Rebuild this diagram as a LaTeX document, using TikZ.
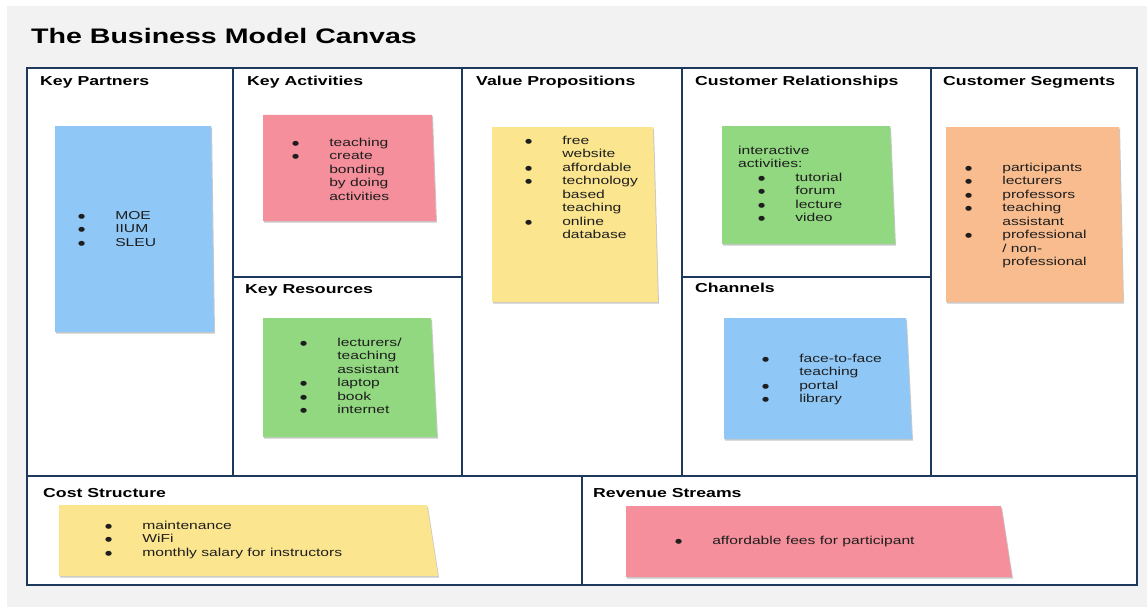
\documentclass[tikz,border=0pt]{standalone}
\usepackage{fontspec}
\setmainfont{Liberation Sans}[FakeStretch=1.36]
\newfontfamily\dotfont{DejaVu Sans}[FakeStretch=1.25]
\usetikzlibrary{shadows}

\definecolor{canvasgray}{RGB}{242,242,242}
\definecolor{framecol}{RGB}{29,58,92}
\definecolor{noteblue}{RGB}{143,200,247}
\definecolor{notepink}{RGB}{245,143,155}
\definecolor{noteyellow}{RGB}{251,229,142}
\definecolor{notegreen}{RGB}{145,216,128}
\definecolor{noteorange}{RGB}{249,188,142}
\definecolor{inkgray}{RGB}{30,30,30}

\newcommand{\blist}[1]{\begin{tabular}[t]{@{}l@{\hspace{30pt}}l@{}}#1\end{tabular}}
\newcommand{\bul}{\raisebox{0.6pt}{\dotfont\fontsize{6.5}{0}\selectfont ●}}

\begin{document}
\begin{tikzpicture}[x=1pt,y=-1pt,
        heading/.style={anchor=base west, inner sep=0pt, font=\fontsize{13}{16}\selectfont\bfseries},
        notetext/.style={anchor=base west, inner sep=0pt, text=inkgray, font=\fontsize{11.5}{13.5}\selectfont},
        sticky/.style={drop shadow={shadow xshift=1pt, shadow yshift=-1.5pt, opacity=.35, fill=black!60}},
        divider/.style={draw=framecol, line width=1.8pt}
    ]
        % Page and gray panel
        \fill[white] (0,0) rectangle (1147,607);
        \fill[canvasgray] (7,6) rectangle (1147,607);
        \node[anchor=base west, inner sep=0pt, font=\fontsize{21}{24}\selectfont\bfseries] (title) at (31,44) {The Business Model Canvas};

        % Canvas frame and blocks
        \fill[white] (27,68) rectangle (1137,585);
        \foreach \x in {233,462,682,931}
            \draw[divider] (\x,68) -- (\x,476);
        \draw[divider] (233,277) -- (462,277);
        \draw[divider] (682,277) -- (931,277);
        \draw[divider] (27,476) -- (1137,476);
        \draw[divider] (582,476) -- (582,585);
        \draw[framecol, line width=2.6pt] (27,68) rectangle (1137,585);

        % Block headings
        \foreach \x/\y/\name/\txt in {
            40/86/kp/Key Partners,
            247/86/ka/Key Activities,
            476/86/vp/Value Propositions,
            695/86/cr/Customer Relationships,
            943/86/cs/Customer Segments,
            245/293/kr/Key Resources,
            695/292/ch/Channels,
            43/497/cost/Cost Structure,
            593/497/rev/Revenue Streams
        } {
            \node[heading] (head-\name) at (\x,\y) {\txt};
        }

        % Sticky notes
        \foreach \c/\xa/\ya/\xb/\xc/\yb in {
            noteblue/55/126/211/214/332,
            notepink/263/115/432/436/221,
            noteyellow/492/127/653/658/302,
            notegreen/722/126/890/895/244,
            noteorange/946/127/1119/1123/302,
            notegreen/263/318/431/437/437,
            noteblue/724/318/906/912/439,
            noteyellow/59/505/427/438/576,
            notepink/626/506/1001/1012/577
        } {
            \fill[\c, sticky] (\xa,\ya) -- (\xb,\ya) -- (\xc,\yb) -- (\xa,\yb) -- cycle;
        }

        % Note contents
        \node[notetext] (kp) at (78,219) {\blist{\bul & MOE\\ \bul & IIUM\\ \bul & SLEU}};
        \node[notetext] (ka) at (292,146) {\blist{\bul & teaching\\ \bul & create\\ & bonding\\ & by doing\\ & activities}};
        \node[notetext] (vp) at (525,144) {\blist{\bul & free\\ & website\\ \bul & affordable\\ \bul & technology\\ & based\\ & teaching\\ \bul & online\\ & database}};
        \node[notetext] (crlead) at (738,154) {\begin{tabular}[t]{@{}l@{}}interactive\\ activities:\end{tabular}};
        \node[notetext] (cr) at (758,181) {\blist{\bul & tutorial\\ \bul & forum\\ \bul & lecture\\ \bul & video}};
        \node[notetext] (cs) at (965,171) {\blist{\bul & participants\\ \bul & lecturers\\ \bul & professors\\ \bul & teaching\\ & assistant\\ \bul & professional\\ & / non-\\ & professional}};
        \node[notetext] (kr) at (300,346) {\blist{\bul & lecturers/\\ & teaching\\ & assistant\\ \bul & laptop\\ \bul & book\\ \bul & internet}};
        \node[notetext] (ch) at (762,362) {\blist{\bul & face-to-face\\ & teaching\\ \bul & portal\\ \bul & library}};
        \node[notetext] (cost) at (105,529) {\blist{\bul & maintenance\\ \bul & WiFi\\ \bul & monthly salary for instructors}};
        \node[notetext] (rev) at (675,544) {\blist{\bul & affordable fees for participant}};
    \end{tikzpicture}
\end{document}
